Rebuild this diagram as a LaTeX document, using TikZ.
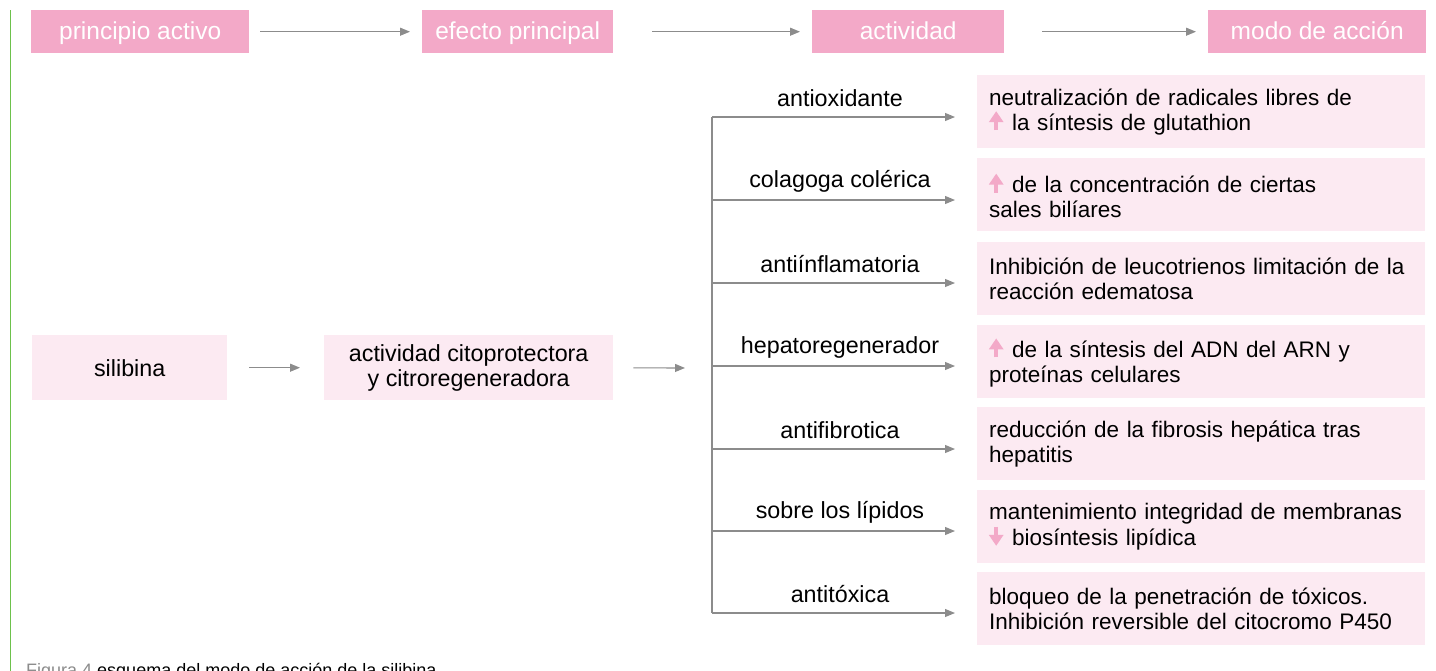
\documentclass[tikz,border=0pt]{standalone}
\usepackage{fontspec}
\setmainfont{Liberation Sans}
\usetikzlibrary{arrows.meta}
\definecolor{hpink}{HTML}{F3A9C8}
\definecolor{lpink}{HTML}{FCEAF2}
\definecolor{agray}{HTML}{8C8C8C}
\definecolor{gline}{HTML}{6DC14C}
\newcommand{\upar}{\tikz[x=1pt,y=1pt,baseline=0pt]{\draw[hpink, line width=4pt, -{Triangle[length=11pt,width=14pt]}] (7,0) -- (7,19);}\hspace{9pt}}
\newcommand{\dnar}{\tikz[x=1pt,y=1pt,baseline=0pt]{\draw[hpink, line width=4pt, -{Triangle[length=11pt,width=14pt]}] (7,19) -- (7,0);}\hspace{9pt}}
\tikzset{
  hdr/.style={fill=hpink, text=white, minimum height=43pt, inner sep=0pt, text height=19pt, text depth=3pt, font=\fontsize{24.5}{27}\selectfont, anchor=north west},
  lbox/.style={fill=lpink, minimum height=65pt, inner sep=0pt, align=center, font=\fontsize{23.3}{25}\selectfont, anchor=north west},
  rbox/.style={fill=lpink, minimum height=73pt, minimum width=448pt, text width=424pt, inner xsep=12pt, inner ysep=0pt, align=left, font=\fontsize{22.5}{25}\selectfont, anchor=north west},
  lbl/.style={font=\fontsize{23.3}{25}\selectfont, inner sep=0pt},
  conn/.style={draw=agray, line width=1.1pt, -{Triangle[length=10pt,width=8pt]}},
  plain/.style={draw=agray, line width=1.1pt}
}
\begin{document}
\begin{tikzpicture}[x=1pt,y=-1pt]
\useasboundingbox (0,0) rectangle (1436,670);
\draw[gline, line width=1.3pt] (10.5,10) -- (10.5,680);
% headers
\node[hdr, minimum width=218pt] (h1) at (31,10) {principio activo};
\node[hdr, minimum width=191pt] (h2) at (422,10) {efecto principal};
\node[hdr, minimum width=192pt] (h3) at (812,10) {actividad};
\node[hdr, minimum width=218pt] (h4) at (1208,10) {modo de acción};
\draw[conn, shorten <=11pt, shorten >=12pt] (h1) -- (h2);
\draw[conn, shorten <=39pt, shorten >=12pt] (h2) -- (h3);
\draw[conn, shorten <=38pt, shorten >=12pt] (h3) -- (h4);
% left boxes
\node[lbox, minimum width=195pt] (sil) at (32,335) {silibina};
\node[lbox, minimum width=289pt] (act) at (324,335) {actividad citoprotectora\\y citroregeneradora};
\draw[conn, shorten <=22pt, shorten >=24pt] (sil) -- (act);
\coordinate (br) at (712,368);
\draw[conn, shorten <=20pt, shorten >=27pt] (act) -- (br);
% branch
\coordinate (b1) at (712,117);
\coordinate (b2) at (712,200);
\coordinate (b3) at (712,283);
\coordinate (b4) at (712,366);
\coordinate (b5) at (712,449);
\coordinate (b6) at (712,531);
\coordinate (b7) at (712,613);
\draw[plain] (b1) -- (b7);
% right boxes
\node[rbox] (r1) at (977,75) {neutralización de radicales libres de\\\upar la síntesis de glutathion};
\node[rbox] (r2) at (977,158) {\upar de la concentración de ciertas\\sales bilíares};
\node[rbox] (r3) at (977,242) {Inhibición de leucotrienos limitación de la\\reacción edematosa};
\node[rbox] (r4) at (977,325) {\upar de la síntesis del ADN del ARN y\\proteínas celulares};
\node[rbox] (r5) at (977,407) {reducción de la fibrosis hepática tras\\hepatitis};
\node[rbox] (r6) at (977,490) {mantenimiento integridad de membranas\\\dnar biosíntesis lipídica};
\node[rbox] (r7) at (977,572) {bloqueo de la penetración de tóxicos.\\Inhibición reversible del citocromo P450};
\foreach \i in {1,...,7}{
  \draw[conn, shorten >=22pt] (b\i) -- (b\i -| r\i.west);
}
% labels
\node[lbl] (l1) at (840,98) {antioxidante};
\node[lbl] (l2) at (840,181) {colagoga colérica};
\node[lbl] (l3) at (840,264) {antiínflamatoria};
\node[lbl] (l4) at (840,347) {hepatoregenerador};
\node[lbl] (l5) at (840,430) {antifibrotica};
\node[lbl] (l6) at (840,512) {sobre los lípidos};
\node[lbl] (l7) at (840,594) {antitóxica};
% caption
\node[anchor=base west, inner sep=0pt, font=\fontsize{18}{22}\selectfont] (cap) at (26,676) {\textcolor{agray}{Figura 4} esquema del modo de acción de la silibina};
\end{tikzpicture}
\end{document}
